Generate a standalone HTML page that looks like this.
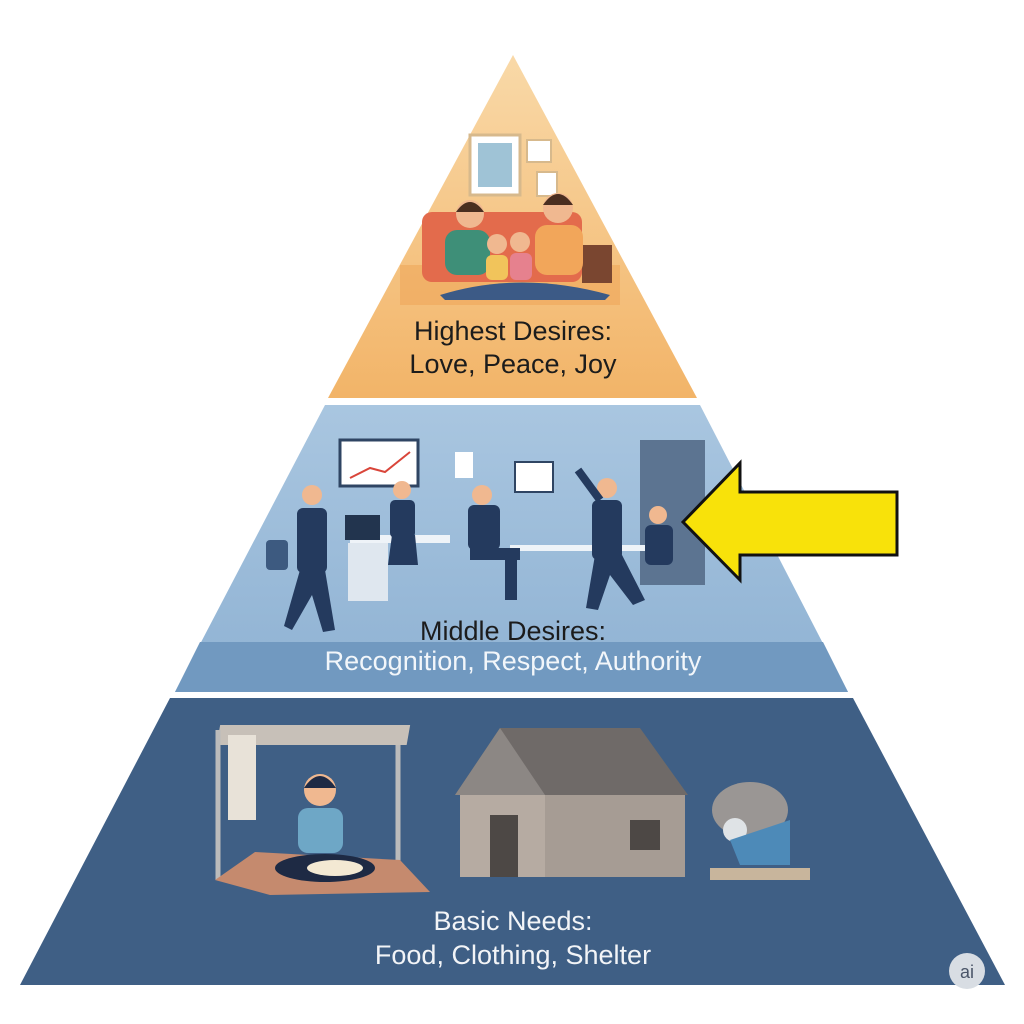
<!DOCTYPE html>
<html><head><meta charset="utf-8"><style>
html,body{margin:0;padding:0;background:#fff;}
svg{display:block}
text{font-family:"Liberation Sans","DejaVu Sans",sans-serif;}
</style></head><body>
<svg width="1024" height="1024" viewBox="0 0 1024 1024" xmlns="http://www.w3.org/2000/svg">
<defs>
<linearGradient id="top" x1="0" y1="0" x2="0" y2="1"><stop offset="0" stop-color="#f9d9a8"/><stop offset="1" stop-color="#f2b468"/></linearGradient>
<linearGradient id="mid" x1="0" y1="0" x2="0" y2="1"><stop offset="0" stop-color="#a9c6e0"/><stop offset="1" stop-color="#8fb2d3"/></linearGradient>
</defs>
<!-- top -->
<polygon points="513,55 697,398 328,398" fill="url(#top)"/>
<rect x="400" y="265" width="220" height="40" fill="#eea75a" opacity="0.6"/>
<rect x="470" y="135" width="50" height="60" fill="#fff" stroke="#d7b98c" stroke-width="3"/>
<rect x="478" y="143" width="34" height="44" fill="#9fc3d6"/>
<rect x="527" y="140" width="24" height="22" fill="#fff" stroke="#d7b98c" stroke-width="2"/>
<rect x="537" y="172" width="20" height="24" fill="#fff" stroke="#d7b98c" stroke-width="2"/>
<rect x="422" y="212" width="160" height="70" rx="10" fill="#e36b4c"/>
<rect x="582" y="245" width="30" height="38" fill="#7a4630"/>
<circle cx="470" cy="214" r="14" fill="#f0b890"/><path d="M456,212 q14,-20 28,0" fill="#4a2e20"/>
<rect x="445" y="230" width="45" height="45" rx="12" fill="#3e8f78"/>
<circle cx="558" cy="208" r="15" fill="#f0b890"/><path d="M543,205 q15,-22 30,0" fill="#4a2e20"/>
<rect x="535" y="225" width="48" height="50" rx="12" fill="#f2a65a"/>
<circle cx="497" cy="244" r="10" fill="#f0b890"/><circle cx="520" cy="242" r="10" fill="#f0b890"/>
<rect x="486" y="255" width="22" height="25" rx="6" fill="#f1c45b"/><rect x="510" y="253" width="22" height="27" rx="6" fill="#e6818e"/>
<path d="M440,295 q80,-25 170,0 l-5,5 h-160z" fill="#3c5a86"/>
<text x="513" y="340" font-size="27" text-anchor="middle" fill="#1c1c1c">Highest Desires:</text>
<text x="513" y="373" font-size="27" text-anchor="middle" fill="#1c1c1c">Love, Peace, Joy</text>
<!-- middle -->
<polygon points="325,405 700,405 848,692 175,692" fill="url(#mid)"/>
<polygon points="200,642 823,642 848,692 175,692" fill="#7199c0"/>
<rect x="340" y="440" width="78" height="46" fill="#fff" stroke="#2f4563" stroke-width="3"/>
<polyline points="350,478 370,468 385,472 410,452" fill="none" stroke="#d9453a" stroke-width="2"/>
<rect x="515" y="462" width="38" height="30" fill="#fff" stroke="#2f4563" stroke-width="2"/>
<rect x="455" y="452" width="18" height="26" fill="#fff"/>
<rect x="640" y="440" width="65" height="145" fill="#5c7491"/>
<rect x="350" y="535" width="100" height="8" fill="#eef3f8"/><rect x="348" y="543" width="40" height="58" fill="#dfe7ef"/>
<rect x="510" y="545" width="140" height="6" fill="#eef3f8"/>
<rect x="345" y="515" width="35" height="25" fill="#22344e"/>
<g fill="#243a5e">
<rect x="297" y="508" width="30" height="65" rx="6"/><polygon points="300,570 325,570 335,630 323,632 312,595 292,630 284,626"/>
<circle cx="312" cy="495" r="10" fill="#f0b890"/>
<rect x="390" y="500" width="25" height="38" rx="5"/><polygon points="392,535 415,535 418,565 388,565"/>
<circle cx="402" cy="490" r="9" fill="#f0b890"/>
<rect x="468" y="505" width="32" height="45" rx="6"/><rect x="470" y="548" width="50" height="12"/><rect x="505" y="555" width="12" height="45"/>
<circle cx="482" cy="495" r="10" fill="#f0b890"/>
<rect x="592" y="500" width="30" height="60" rx="6"/><polygon points="595,555 622,555 645,600 633,605 610,575 598,610 586,608"/>
<circle cx="607" cy="488" r="10" fill="#f0b890"/><line x1="600" y1="500" x2="578" y2="470" stroke="#243a5e" stroke-width="8"/>
<rect x="645" y="525" width="28" height="40" rx="6"/><circle cx="658" cy="515" r="9" fill="#f0b890"/>
<rect x="266" y="540" width="22" height="30" rx="4" fill="#3d5a80"/>
</g>
<text x="513" y="640" font-size="27" text-anchor="middle" fill="#1c1c1c">Middle Desires:</text>
<text x="513" y="670" font-size="27" text-anchor="middle" fill="#f2f6fa">Recognition, Respect, Authority</text>
<!-- arrow -->
<polygon points="683,522 740,463 740,492 897,492 897,555 740,555 740,580" fill="#f8e20a" stroke="#111" stroke-width="3" stroke-linejoin="miter"/>
<!-- bottom -->
<polygon points="170,698 853,698 1005,985 20,985" fill="#3f5f85"/>
<rect x="218" y="725" width="190" height="20" fill="#c7c0b8" transform="skewX(-10) translate(130,0)"/>
<line x1="218" y1="730" x2="218" y2="880" stroke="#bbb" stroke-width="5"/>
<line x1="398" y1="745" x2="398" y2="880" stroke="#bbb" stroke-width="5"/>
<rect x="228" y="735" width="28" height="85" fill="#e8e2d8"/>
<polygon points="215,880 255,852 400,860 430,892 270,895" fill="#c58a6e"/>
<circle cx="320" cy="790" r="16" fill="#f0b890"/><path d="M304,788 q16,-24 32,0" fill="#1f2a44"/>
<rect x="298" y="808" width="45" height="45" rx="10" fill="#6ea7c6"/>
<ellipse cx="325" cy="868" rx="50" ry="14" fill="#1e2a44"/>
<ellipse cx="335" cy="868" rx="28" ry="8" fill="#f3e9d3"/>
<polygon points="455,795 500,728 640,728 688,795" fill="#6f6a68"/>
<polygon points="455,795 500,728 545,795" fill="#8c8784"/>
<rect x="460" y="795" width="85" height="82" fill="#b6aba2"/>
<rect x="545" y="795" width="140" height="82" fill="#a69c94"/>
<rect x="490" y="815" width="28" height="62" fill="#4d4845"/>
<rect x="630" y="820" width="30" height="30" fill="#4d4845"/>
<ellipse cx="750" cy="810" rx="38" ry="28" fill="#9a9694"/>
<circle cx="735" cy="830" r="12" fill="#dfe3e6"/>
<polygon points="730,840 790,820 790,865 740,865" fill="#4d8ab8"/>
<rect x="710" y="868" width="100" height="12" fill="#c8b59c"/>
<text x="513" y="930" font-size="27" text-anchor="middle" fill="#f2f4f7">Basic Needs:</text>
<text x="513" y="964" font-size="27" text-anchor="middle" fill="#f2f4f7">Food, Clothing, Shelter</text>
<circle cx="967" cy="971" r="18" fill="#d8dde3"/>
<text x="967" y="978" font-size="18" text-anchor="middle" fill="#4a5568">ai</text>
</svg>
</body></html>
